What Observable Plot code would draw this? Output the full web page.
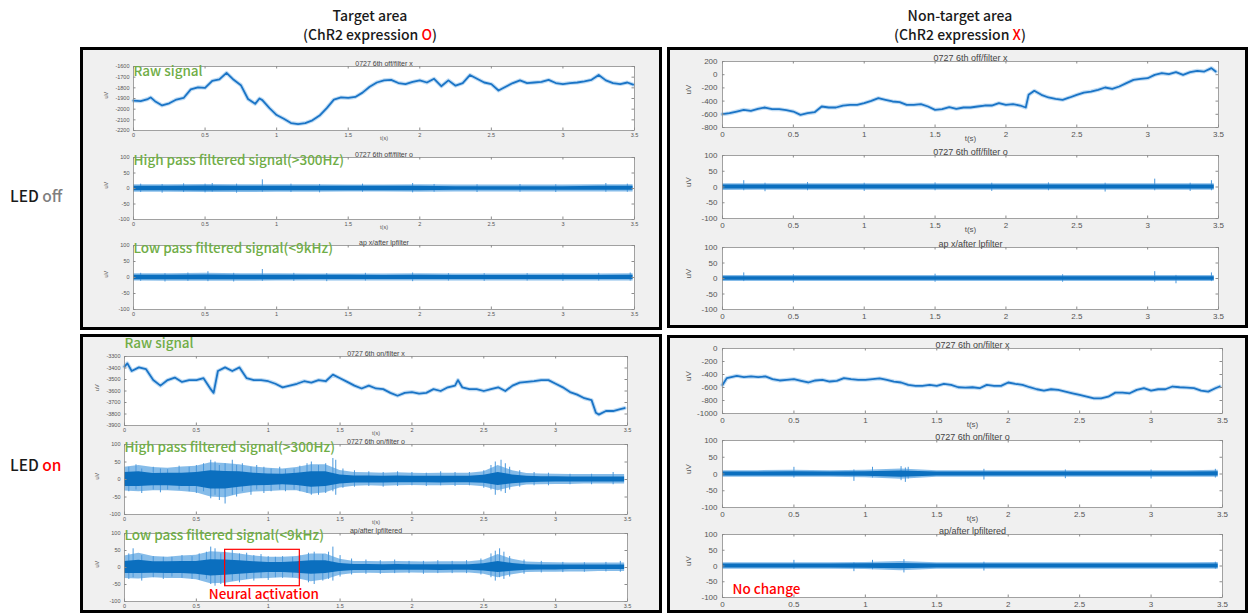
<!DOCTYPE html>
<html><head><meta charset="utf-8">
<script src="https://cdn.jsdelivr.net/npm/d3@7"></script>
<script src="https://cdn.jsdelivr.net/npm/@observablehq/plot@0.6"></script>
<style>
body{margin:0;background:#fff;}
#root{position:relative;width:1249px;height:615px;overflow:hidden;font-family:"Noto Sans CJK KR","Noto Sans",sans-serif;background:#fff;}
.panel{position:absolute;border:3px solid #000;background:#f0f0f0;box-sizing:border-box;}
.sub{position:absolute;}
.hdr{position:absolute;text-align:center;font-size:14px;color:#1a1a1a;line-height:15px;font-weight:500;}
.row{position:absolute;font-size:15.5px;color:#1a1a1a;font-weight:500;}
</style></head><body><div id="root"></div><script>
// ---------- tick labels ----------
const timeTicks = [0, 0.5, 1, 1.5, 2, 2.5, 3, 3.5];
const filtTicks = [-100, -50, 0, 50, 100];
const offTargetRawTicks = [-2200, -2100, -2000, -1900, -1800, -1700, -1600];
const offNonRawTicks = [-800, -600, -400, -200, 0, 200];
const onTargetRawTicks = [-3900, -3800, -3700, -3600, -3500, -3400, -3300];
const onNonRawTicks = [-1000, -800, -600, -400, -200, 0];

// ---------- raw signals [t (s), uV] ----------
const offTargetRaw = [[0,-1920],[0.05,-1925],[0.1,-1905],[0.12,-1890],[0.15,-1925],[0.2,-1965],[0.25,-1945],[0.3,-1910],[0.35,-1895],[0.4,-1815],[0.45,-1795],[0.5,-1800],[0.55,-1735],[0.6,-1720],[0.65,-1660],[0.7,-1725],[0.75,-1775],[0.8,-1905],[0.85,-1950],[0.88,-1900],[0.9,-1915],[0.95,-1990],[1,-2055],[1.05,-2090],[1.1,-2130],[1.15,-2140],[1.2,-2130],[1.25,-2105],[1.3,-2060],[1.35,-1990],[1.4,-1910],[1.45,-1890],[1.5,-1895],[1.55,-1885],[1.6,-1845],[1.65,-1790],[1.7,-1750],[1.75,-1730],[1.8,-1725],[1.85,-1755],[1.9,-1765],[1.95,-1745],[2,-1730],[2.05,-1750],[2.1,-1715],[2.15,-1785],[2.2,-1730],[2.25,-1780],[2.3,-1755],[2.35,-1680],[2.4,-1715],[2.45,-1750],[2.5,-1765],[2.55,-1825],[2.6,-1790],[2.65,-1755],[2.7,-1730],[2.75,-1755],[2.8,-1750],[2.85,-1745],[2.9,-1725],[2.95,-1755],[3,-1765],[3.05,-1755],[3.1,-1750],[3.15,-1740],[3.2,-1725],[3.25,-1680],[3.3,-1730],[3.35,-1755],[3.4,-1765],[3.45,-1750],[3.49,-1770]];
const offNonRaw = [[0,-598],[0.05,-583],[0.1,-558],[0.15,-532],[0.2,-547],[0.25,-517],[0.3,-497],[0.35,-522],[0.4,-522],[0.45,-537],[0.5,-558],[0.55,-608],[0.6,-583],[0.65,-568],[0.7,-482],[0.75,-497],[0.8,-497],[0.85,-467],[0.9,-457],[0.95,-457],[1,-431],[1.05,-396],[1.1,-356],[1.15,-381],[1.2,-406],[1.25,-416],[1.3,-457],[1.35,-457],[1.4,-447],[1.45,-482],[1.5,-532],[1.55,-522],[1.6,-492],[1.65,-517],[1.7,-497],[1.75,-497],[1.8,-482],[1.85,-467],[1.9,-467],[1.95,-431],[2,-457],[2.05,-447],[2.1,-467],[2.14,-497],[2.16,-305],[2.2,-244],[2.25,-305],[2.3,-345],[2.35,-366],[2.4,-381],[2.45,-345],[2.5,-305],[2.55,-270],[2.6,-255],[2.65,-229],[2.7,-194],[2.75,-214],[2.8,-179],[2.85,-128],[2.9,-78],[2.95,-63],[3,-53],[3.05,-2],[3.1,23],[3.15,8],[3.2,38],[3.25,-2],[3.3,38],[3.35,59],[3.4,48],[3.45,99],[3.48,48]];
const onTargetRaw = [[0,-3388],[0.02,-3360],[0.05,-3426],[0.1,-3395],[0.15,-3410],[0.2,-3505],[0.25,-3553],[0.3,-3505],[0.35,-3483],[0.4,-3521],[0.45,-3505],[0.5,-3505],[0.55,-3489],[0.6,-3584],[0.62,-3616],[0.65,-3426],[0.7,-3395],[0.75,-3426],[0.8,-3395],[0.85,-3489],[0.9,-3505],[0.95,-3505],[1,-3515],[1.05,-3537],[1.1,-3568],[1.15,-3553],[1.2,-3537],[1.25,-3515],[1.3,-3527],[1.35,-3505],[1.4,-3515],[1.45,-3458],[1.5,-3489],[1.55,-3521],[1.6,-3553],[1.65,-3578],[1.7,-3553],[1.75,-3578],[1.8,-3584],[1.85,-3616],[1.9,-3641],[1.95,-3616],[2,-3609],[2.05,-3622],[2.1,-3616],[2.15,-3584],[2.2,-3600],[2.25,-3568],[2.3,-3553],[2.32,-3505],[2.35,-3568],[2.4,-3584],[2.45,-3584],[2.5,-3600],[2.55,-3584],[2.6,-3568],[2.65,-3600],[2.7,-3553],[2.75,-3527],[2.8,-3521],[2.85,-3515],[2.9,-3505],[2.95,-3505],[3,-3537],[3.05,-3568],[3.1,-3609],[3.15,-3632],[3.2,-3663],[3.25,-3679],[3.28,-3789],[3.3,-3805],[3.35,-3774],[3.4,-3774],[3.45,-3758],[3.48,-3748]];
const onNonRaw = [[0,-560],[0.03,-456],[0.1,-420],[0.15,-440],[0.2,-430],[0.25,-440],[0.3,-430],[0.35,-472],[0.4,-492],[0.45,-482],[0.5,-472],[0.55,-497],[0.6,-523],[0.65,-492],[0.7,-482],[0.75,-508],[0.8,-497],[0.85,-456],[0.9,-472],[0.95,-482],[1,-482],[1.05,-472],[1.1,-461],[1.15,-482],[1.2,-508],[1.25,-523],[1.3,-560],[1.35,-575],[1.4,-575],[1.45,-560],[1.5,-575],[1.55,-544],[1.6,-560],[1.65,-596],[1.7,-601],[1.75,-596],[1.8,-611],[1.85,-560],[1.9,-575],[1.95,-575],[2,-523],[2.05,-544],[2.1,-560],[2.15,-596],[2.2,-627],[2.25,-648],[2.3,-627],[2.35,-637],[2.4,-663],[2.45,-689],[2.5,-715],[2.55,-741],[2.6,-767],[2.65,-767],[2.7,-741],[2.75,-679],[2.8,-679],[2.85,-689],[2.9,-637],[2.95,-611],[3,-648],[3.05,-627],[3.1,-627],[3.15,-585],[3.2,-596],[3.25,-601],[3.3,-611],[3.35,-648],[3.4,-663],[3.45,-611],[3.48,-585]];

// ---------- filtered signals: band [t, coreHi, coreLo, fringeHi, fringeLo] and spikes [t, top, bottom] ----------
const offTargetHPBand = [[0,7,-7,12,-12],[0.25,7,-7,12,-12],[0.5,8,-8,13,-13],[0.75,7,-7,12,-13],[1,7,-7,12,-12],[1.25,7,-7,12,-12],[1.5,7,-7,11,-11],[1.75,7,-7,11,-11],[2,7,-7,12,-12],[2.25,6,-6,11,-11],[2.5,6,-6,11,-11],[2.75,6,-6,11,-11],[3,6,-6,11,-11],[3.25,7,-6,12,-11],[3.49,7,-6,12,-11]];
const offTargetHPSpikes = [[0.05,14,-13],[0.2,13,-15],[0.35,15,-13],[0.5,14,-14],[0.55,16,-12],[0.72,14,-15],[0.9,28,-12],[1.1,14,-13],[1.3,13,-14],[1.6,14,-12],[1.95,16,-14],[2.1,13,-12],[2.4,12,-13],[2.7,13,-12],[2.95,12,-13],[3.3,16,-12],[3.45,14,-12]];
const offTargetLPBand = [[0,7,-7,12,-11],[0.25,7,-7,12,-12],[0.5,8,-7,13,-12],[0.75,7,-7,12,-12],[1,7,-7,12,-11],[1.25,7,-6,11,-11],[1.5,7,-6,11,-11],[1.75,6,-6,11,-11],[2,7,-6,12,-11],[2.25,6,-6,11,-11],[2.5,6,-6,11,-11],[2.75,6,-6,11,-11],[3,6,-6,11,-11],[3.25,6,-6,11,-11],[3.49,7,-6,12,-11]];
const offTargetLPSpikes = [[0.05,13,-12],[0.22,12,-14],[0.38,14,-12],[0.52,18,-13],[0.7,13,-14],[0.9,25,-12],[1.12,13,-12],[1.35,12,-13],[1.62,13,-11],[1.95,14,-13],[2.2,12,-11],[2.45,12,-12],[2.75,12,-11],[3,11,-12],[3.25,13,-11],[3.47,14,-11]];
const offNonHPBand = [[0,6,-6,10,-11],[0.25,6,-6,10,-10],[0.5,6,-6,10,-10],[0.75,6,-6,10,-10],[1,6,-6,10,-10],[1.25,6,-6,10,-10],[1.5,6,-6,10,-10],[1.75,6,-6,10,-10],[2,6,-6,10,-10],[2.25,6,-6,10,-10],[2.5,6,-6,10,-10],[2.75,6,-6,10,-10],[3,6,-6,10,-10],[3.25,6,-6,10,-10],[3.47,6,-6,10,-10]];
const offNonHPSpikes = [[0.15,20,-12],[0.3,12,-15],[0.6,14,-12],[1,12,-14],[1.5,13,-12],[1.9,12,-14],[2.3,13,-12],[2.7,12,-16],[3.05,25,-12],[3.3,12,-14],[3.45,20,-12]];
const offNonLPBand = [[0,6,-6,10,-10],[0.25,6,-6,10,-10],[0.5,6,-6,10,-10],[0.75,6,-6,10,-10],[1,6,-6,10,-10],[1.25,6,-6,10,-10],[1.5,6,-6,10,-10],[1.75,6,-6,10,-10],[2,6,-6,10,-10],[2.25,6,-6,10,-10],[2.5,6,-6,10,-10],[2.75,6,-6,10,-10],[3,6,-6,10,-10],[3.25,6,-6,10,-10],[3.47,6,-6,10,-10]];
const offNonLPSpikes = [[0.15,18,-10],[0.5,12,-14],[1.5,14,-12],[2.4,12,-12],[3.05,22,-12],[3.2,10,-17],[3.45,18,-10]];
const onNonHPBand = [[0,6,-6,10,-10],[0.25,6,-6,10,-10],[0.5,7,-6,11,-10],[0.75,6,-6,10,-10],[1,7,-7,11,-11],[1.25,9,-10,15,-16],[1.5,6,-6,10,-10],[1.75,6,-6,10,-10],[2,6,-6,10,-10],[2.25,6,-6,10,-10],[2.5,6,-6,10,-10],[2.75,6,-6,10,-10],[3,6,-6,10,-10],[3.25,6,-6,10,-10],[3.47,7,-6,11,-10]];
const onNonHPSpikes = [[0.5,20,-12],[0.92,12,-22],[1.05,20,-12],[1.25,22,-20],[1.28,18,-25],[1.3,20,-15],[1.83,14,-18],[2.4,12,-14],[3,12,-15],[3.45,14,-12]];
const onNonLPBand = [[0,6,-6,10,-10],[0.25,6,-6,10,-10],[0.5,6,-6,10,-10],[0.75,6,-6,10,-10],[1,7,-7,11,-11],[1.25,8,-9,14,-15],[1.5,6,-6,10,-10],[1.75,6,-6,10,-10],[2,6,-6,10,-10],[2.25,6,-6,10,-10],[2.5,6,-6,10,-10],[2.75,6,-6,10,-10],[3,6,-6,10,-10],[3.25,6,-6,10,-10],[3.47,6,-6,11,-10]];
const onNonLPSpikes = [[0.5,18,-10],[0.92,10,-18],[1.05,18,-12],[1.27,20,-22],[1.83,12,-16],[3.45,12,-10]];
const onTargetHPBand = [[0,20,-20,35,-33],[0.1,22,-20,40,-35],[0.2,17,-18,34,-32],[0.3,18,-18,32,-32],[0.4,18,-20,36,-34],[0.5,20,-20,38,-38],[0.6,25,-27,48,-50],[0.7,23,-27,46,-52],[0.8,22,-22,42,-42],[0.9,18,-18,36,-36],[1,16,-17,32,-34],[1.1,15,-15,30,-32],[1.2,18,-17,34,-32],[1.3,22,-22,42,-42],[1.4,22,-20,42,-38],[1.5,13,-13,26,-24],[1.6,10,-10,20,-19],[1.7,10,-10,19,-18],[1.8,9,-10,18,-19],[1.9,10,-9,19,-18],[2,9,-9,18,-17],[2.1,9,-9,17,-18],[2.2,9,-10,18,-18],[2.3,9,-9,18,-17],[2.4,9,-9,18,-17],[2.5,12,-11,22,-21],[2.6,20,-17,40,-32],[2.7,13,-12,25,-22],[2.8,9,-9,17,-16],[2.9,8,-8,16,-15],[3,8,-7,15,-14],[3.1,7,-7,14,-14],[3.2,7,-7,14,-13],[3.3,7,-7,14,-13],[3.4,7,-7,14,-13],[3.48,7,-7,14,-13]];
const onTargetHPSpikes = [[0.03,35,-35],[0.08,42,-30],[0.12,30,-40],[0.2,35,-30],[0.25,30,-38],[0.3,28,-30],[0.38,38,-30],[0.45,35,-35],[0.5,40,-40],[0.55,45,-35],[0.6,55,-55],[0.63,50,-45],[0.66,40,-60],[0.7,45,-70],[0.75,55,-45],[0.78,40,-50],[0.82,45,-35],[0.88,35,-45],[0.92,40,-30],[0.97,35,-40],[1.02,30,-35],[1.08,35,-30],[1.12,28,-35],[1.18,30,-30],[1.22,38,-35],[1.27,45,-40],[1.3,50,-45],[1.35,40,-45],[1.4,45,-40],[1.45,60,-35],[1.47,55,-45],[1.52,30,-25],[1.6,25,-22],[1.7,22,-20],[1.8,20,-22],[1.9,22,-20],[2,20,-18],[2.1,18,-20],[2.2,22,-18],[2.3,20,-20],[2.4,20,-18],[2.5,25,-25],[2.55,40,-30],[2.58,50,-45],[2.62,55,-35],[2.65,45,-40],[2.68,35,-30],[2.75,25,-22],[2.85,20,-18],[2.95,18,-18],[3.1,15,-15],[3.25,15,-15],[3.4,20,-15]];
const onTargetLPBand = [[0,18,-18,34,-32],[0.1,21,-18,42,-34],[0.2,17,-17,32,-30],[0.3,17,-18,30,-32],[0.4,18,-18,34,-32],[0.5,18,-20,36,-36],[0.6,23,-25,46,-48],[0.7,22,-23,44,-46],[0.8,20,-20,40,-40],[0.9,17,-17,34,-34],[1,15,-15,30,-32],[1.1,15,-15,30,-30],[1.2,17,-17,32,-32],[1.3,20,-20,40,-42],[1.4,20,-18,40,-36],[1.5,12,-12,24,-23],[1.6,9,-9,18,-18],[1.7,9,-9,18,-17],[1.8,8,-9,17,-18],[1.9,9,-8,18,-17],[2,8,-8,17,-16],[2.1,8,-8,16,-17],[2.2,8,-9,17,-17],[2.3,8,-8,17,-16],[2.4,8,-8,17,-16],[2.5,11,-10,21,-20],[2.6,18,-15,38,-30],[2.7,12,-11,24,-21],[2.8,8,-8,16,-15],[2.9,7,-7,15,-14],[3,7,-7,14,-14],[3.1,7,-6,13,-13],[3.2,7,-6,13,-13],[3.3,7,-6,13,-12],[3.4,7,-6,13,-12],[3.48,7,-6,13,-12]];
const onTargetLPSpikes = [[0.03,40,-35],[0.06,55,-30],[0.12,35,-40],[0.2,32,-30],[0.27,30,-35],[0.33,30,-28],[0.4,35,-32],[0.47,32,-35],[0.52,40,-38],[0.57,45,-35],[0.6,60,-50],[0.63,55,-55],[0.67,40,-50],[0.7,45,-55],[0.75,50,-40],[0.8,40,-45],[0.85,42,-35],[0.9,35,-40],[0.95,38,-32],[1,32,-38],[1.05,30,-30],[1.1,32,-32],[1.17,30,-30],[1.22,35,-35],[1.28,42,-45],[1.32,45,-50],[1.38,38,-40],[1.42,45,-35],[1.45,60,-40],[1.5,35,-28],[1.58,25,-22],[1.68,22,-20],[1.78,20,-20],[1.88,22,-18],[1.98,18,-18],[2.08,18,-20],[2.18,20,-18],[2.28,18,-18],[2.38,20,-18],[2.48,25,-22],[2.55,40,-30],[2.58,48,-40],[2.61,55,-30],[2.64,45,-35],[2.68,32,-28],[2.78,22,-20],[2.9,18,-16],[3.05,15,-15],[3.2,14,-14],[3.35,15,-13],[3.45,18,-14]];

// ---------- annotations (data coordinates) ----------
const activationWindow = [{t0: 0.7, t1: 1.22, lo: -55, hi: 52}];
const activationLabel = [{t: 0.97, v: -80, text: "Neural activation"}];
const noChangeLabel = [{t: 0.07, v: -75, text: "No change"}];

// ---------- layout ----------
const root = document.getElementById("root");
function div(cls, css, html) {
  const d = document.createElement("div");
  d.className = cls; Object.assign(d.style, css); if (html) d.innerHTML = html;
  root.appendChild(d); return d;
}
div("panel", {left: "80px", top: "47px", width: "582px", height: "283px"});
div("panel", {left: "667px", top: "47px", width: "581px", height: "281px"});
div("panel", {left: "80px", top: "334px", width: "582px", height: "279px"});
div("panel", {left: "667px", top: "335px", width: "581px", height: "278px"});
div("hdr", {left: "270px", top: "8px", width: "200px"}, "Target area");
div("hdr", {left: "270px", top: "27px", width: "200px"}, '(ChR2 expression <span style="color:#ff0000">O</span>)');
div("hdr", {left: "860px", top: "8px", width: "200px"}, "Non-target area");
div("hdr", {left: "860px", top: "27px", width: "200px"}, '(ChR2 expression <span style="color:#ff0000">X</span>)');
div("row", {left: "10px", top: "184px"}, 'LED <span style="color:#7f7f7f">off</span>');
div("row", {left: "10px", top: "453px"}, 'LED <span style="color:#ff0000">on</span>');

const fmt = d => String(d);
const LABEL_FONT = "Noto Sans CJK KR";

function lineMarks(data) {
  return [
    Plot.line(data, {x: d => d[0], y: d => d[1], stroke: "#4a9ae0", strokeWidth: 4, strokeOpacity: 0.35}),
    Plot.line(data, {x: d => d[0], y: d => d[1], stroke: "#1a74c6", strokeWidth: 1.8})
  ];
}
function bandMarks(band, spikes) {
  return [
    Plot.areaY(band, {x: d => d[0], y1: d => d[4], y2: d => d[3], fill: "#5ea5e2", fillOpacity: 0.75}),
    Plot.ruleX(spikes, {x: d => d[0], y1: d => d[2], y2: d => d[1], stroke: "#4a98dc", strokeWidth: 1}),
    Plot.areaY(band, {x: d => d[0], y1: d => d[2], y2: d => d[1], fill: "#0b6fbf"})
  ];
}
function greenLabel(text, dy) {
  return Plot.text([text], {frameAnchor: "top-left", textAnchor: "start", lineAnchor: "top", dx: 0, dy,
    fill: "#70ad47", fontSize: 13.5, fontWeight: 500, fontFamily: LABEL_FONT});
}

function sub(cfg) {
  const {box, yDomain, yTicks, title, small, xlabel, marks} = cfg;
  const fs = small ? 5.5 : 8;
  const tfs = small ? 7 : 9;
  const m = {top: 16, right: 12, bottom: 24, left: 40};
  const tk = 2.5;
  const chart = Plot.plot({
    width: box.w + m.left + m.right, height: box.h + m.top + m.bottom,
    marginTop: m.top, marginRight: m.right, marginBottom: m.bottom, marginLeft: m.left,
    style: {background: "transparent", fontFamily: "Liberation Sans, Arial, sans-serif", fontSize: fs + "px", color: "#4d4d4d", overflow: "visible"},
    x: {domain: [0, 3.5]},
    y: {domain: yDomain},
    marks: [
      Plot.frame({fill: "white", stroke: "none"}),
      ...marks,
      Plot.frame({stroke: "#8c8c8c", strokeWidth: 0.8}),
      Plot.tickX(timeTicks, {x: d => d, insetBottom: box.h - tk, stroke: "#8c8c8c"}),
      Plot.tickX(timeTicks, {x: d => d, insetTop: box.h - tk, stroke: "#8c8c8c"}),
      Plot.tickY(yTicks, {y: d => d, insetRight: box.w - tk, stroke: "#8c8c8c"}),
      Plot.tickY(yTicks, {y: d => d, insetLeft: box.w - tk, stroke: "#8c8c8c"}),
      Plot.axisX({ticks: timeTicks, tickFormat: fmt, tickSize: 0, tickPadding: small ? 3 : 4, label: null, fill: "#555"}),
      Plot.axisY({ticks: yTicks, tickFormat: fmt, tickSize: 0, tickPadding: small ? 4 : 5, label: null, fill: "#555"}),
      Plot.text([title], {frameAnchor: "top", lineAnchor: "bottom", dy: -1, fill: "#444", fontSize: tfs}),
      Plot.text(["uV"], {frameAnchor: "left", rotate: -90, dx: small ? -27 : -34, fill: "#555", fontSize: fs}),
      ...(xlabel ? [Plot.text(["t(s)"], {frameAnchor: "bottom", lineAnchor: "top", dy: small ? 6 : 8, fill: "#555", fontSize: fs})] : []),
      ...(cfg.extra || [])
    ]
  });
  const holder = div("sub", {left: (box.x - m.left) + "px", top: (box.y - m.top) + "px"});
  holder.appendChild(chart);
}

// ---- LED off / target ----
sub({box: {x: 133, y: 66, w: 501, h: 64}, small: true, yDomain: [-2200, -1600], yTicks: offTargetRawTicks, title: "0727 6th off/filter x", xlabel: true,
  marks: lineMarks(offTargetRaw), extra: [greenLabel("Raw signal", 0)]});
sub({box: {x: 133, y: 157, w: 501, h: 62}, small: true, yDomain: [-100, 100], yTicks: filtTicks, title: "0727 6th off/filter o", xlabel: true,
  marks: bandMarks(offTargetHPBand, offTargetHPSpikes), extra: [greenLabel("High pass filtered signal(>300Hz)", -2)]});
sub({box: {x: 133, y: 245, w: 501, h: 64}, small: true, yDomain: [-100, 100], yTicks: filtTicks, title: "ap x/after lpfilter", xlabel: false,
  marks: bandMarks(offTargetLPBand, offTargetLPSpikes), extra: [greenLabel("Low pass filtered signal(<9kHz)", -2)]});
// ---- LED off / non-target ----
sub({box: {x: 722, y: 61, w: 496, h: 66}, small: false, yDomain: [-800, 200], yTicks: offNonRawTicks, title: "0727 6th off/filter x", xlabel: true,
  marks: lineMarks(offNonRaw)});
sub({box: {x: 722, y: 155, w: 496, h: 63}, small: false, yDomain: [-100, 100], yTicks: filtTicks, title: "0727 6th off/filter o", xlabel: true,
  marks: bandMarks(offNonHPBand, offNonHPSpikes)});
sub({box: {x: 722, y: 247, w: 496, h: 62}, small: false, yDomain: [-100, 100], yTicks: filtTicks, title: "ap x/after lpfilter", xlabel: false,
  marks: bandMarks(offNonLPBand, offNonLPSpikes)});
// ---- LED on / target ----
sub({box: {x: 124, y: 356, w: 503, h: 69}, small: true, yDomain: [-3900, -3300], yTicks: onTargetRawTicks, title: "0727 6th on/filter x", xlabel: true,
  marks: lineMarks(onTargetRaw), extra: [greenLabel("Raw signal", -18)]});
sub({box: {x: 124, y: 444, w: 503, h: 70}, small: true, yDomain: [-100, 100], yTicks: filtTicks, title: "0727 6th on/filter o", xlabel: true,
  marks: bandMarks(onTargetHPBand, onTargetHPSpikes), extra: [greenLabel("High pass filtered signal(>300Hz)", -2)]});
sub({box: {x: 124, y: 533, w: 503, h: 68}, small: true, yDomain: [-100, 100], yTicks: filtTicks, title: "ap/after lpfiltered", xlabel: false,
  marks: bandMarks(onTargetLPBand, onTargetLPSpikes), extra: [
    greenLabel("Low pass filtered signal(<9kHz)", -3),
    Plot.rect(activationWindow, {x1: "t0", x2: "t1", y1: "lo", y2: "hi", stroke: "#ff0000", strokeWidth: 1.2, fill: "none"}),
    Plot.text(activationLabel, {x: "t", y: "v", text: "text", fill: "#ff0000", fontSize: 13.5, fontWeight: 500, fontFamily: LABEL_FONT})
  ]});
// ---- LED on / non-target ----
sub({box: {x: 722, y: 348, w: 500, h: 65}, small: false, yDomain: [-1000, 0], yTicks: onNonRawTicks, title: "0727 6th on/filter x", xlabel: true,
  marks: lineMarks(onNonRaw)});
sub({box: {x: 722, y: 440, w: 500, h: 67}, small: false, yDomain: [-100, 100], yTicks: filtTicks, title: "0727 6th on/filter o", xlabel: true,
  marks: bandMarks(onNonHPBand, onNonHPSpikes)});
sub({box: {x: 722, y: 534, w: 500, h: 63}, small: false, yDomain: [-100, 100], yTicks: filtTicks, title: "ap/after lpfiltered", xlabel: false,
  marks: bandMarks(onNonLPBand, onNonLPSpikes), extra: [
    Plot.text(noChangeLabel, {x: "t", y: "v", text: "text", textAnchor: "start", fill: "#ff0000", fontSize: 13.5, fontWeight: 500, fontFamily: LABEL_FONT})
  ]});
</script></body></html>
